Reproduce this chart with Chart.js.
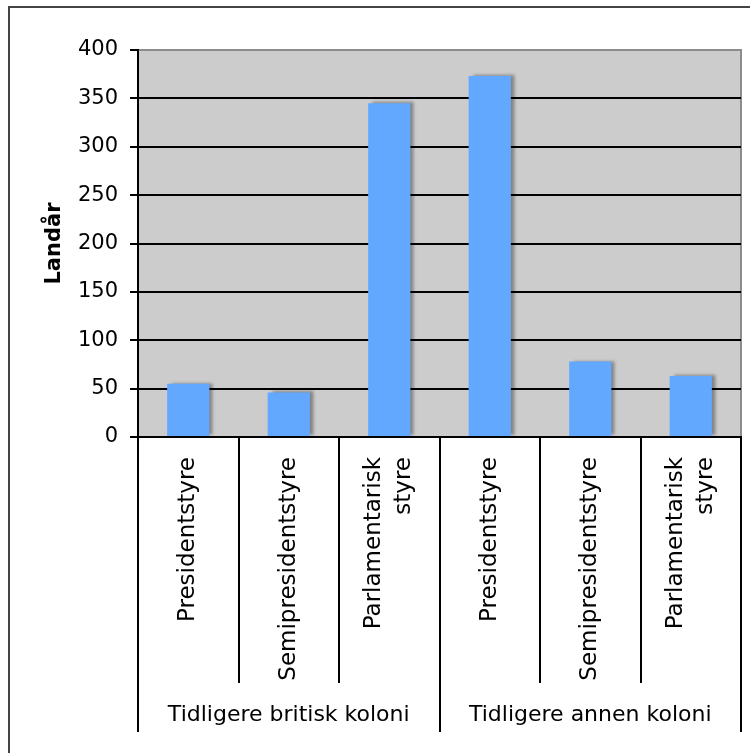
<!DOCTYPE html>
<html>
<head>
<meta charset="utf-8">
<script src="https://cdn.jsdelivr.net/npm/chart.js@4.4.1/dist/chart.umd.min.js"></script>
<style>
  body { margin: 0; background: #fff; }
</style>
</head>
<body>
<canvas id="myChart" width="750" height="753"></canvas>
<script>
const kategorier = [
    "Presidentstyre",
    "Semipresidentstyre",
    ["Parlamentarisk", "styre"],
    "Presidentstyre",
    "Semipresidentstyre",
    ["Parlamentarisk", "styre"],
];
const grupper = ["Tidligere britisk koloni", "Tidligere annen koloni"];
const gruppeStorrelse = [3, 3];
const landar = [55, 46, 345, 373, 78, 63];

const skrift = "'DejaVu Sans', Verdana, sans-serif";

// hvit ramme rundt det hele og grå plottflate
const bakgrunn = {
    id: "bakgrunn",
    beforeDraw(chart) {
        const { ctx, chartArea: a } = chart;
        ctx.save();
        ctx.fillStyle = "#fff";
        ctx.fillRect(0, 0, chart.width, chart.height);
        ctx.strokeStyle = "#444";
        ctx.lineWidth = 2;
        ctx.strokeRect(9, 7, chart.width + 20, chart.height + 20);
        ctx.fillStyle = "#cccccc";
        ctx.fillRect(a.left, a.top, a.right - a.left, a.bottom - a.top);
        ctx.strokeStyle = "#8c8c8c";
        ctx.strokeRect(a.left, a.top, a.right - a.left, a.bottom - a.top);
        ctx.restore();
    },
};

// skygge på høyre side av søylene
const skygge = {
    id: "skygge",
    beforeDatasetsDraw(chart) {
        const ctx = chart.ctx;
        ctx.save();
        ctx.shadowColor = "rgba(0,0,0,0.35)";
        ctx.shadowOffsetX = 4;
        ctx.shadowOffsetY = -1;
        ctx.shadowBlur = 3;
    },
    afterDatasetsDraw(chart) {
        chart.ctx.restore();
    },
};

// to-nivå kategoriakse: stående etiketter, skillelinjer og gruppenavn
const kategoriAkse = {
    id: "kategoriAkse",
    afterDraw(chart) {
        const { ctx } = chart;
        const x = chart.scales.x;
        const top = x.top;

        const grenser = [0];
        gruppeStorrelse.forEach((n) => grenser.push(grenser[grenser.length - 1] + n));

        ctx.save();
        ctx.strokeStyle = "#000";
        ctx.lineWidth = 2;
        for (let i = 0; i <= kategorier.length; i++) {
            const px = Math.round(x.getPixelForValue(i - 0.5));
            ctx.beginPath();
            ctx.moveTo(px, top);
            ctx.lineTo(px, top + (grenser.includes(i) ? 295 : 246));
            ctx.stroke();
        }

        ctx.fillStyle = "#000";
        ctx.font = "23px " + skrift;
        ctx.textAlign = "right";
        ctx.textBaseline = "middle";
        kategorier.forEach((lab, i) => {
            const linjer = Array.isArray(lab) ? lab : [lab];
            const px = x.getPixelForValue(i);
            linjer.forEach((tekst, j) => {
                const forskyv = (j - (linjer.length - 1) / 2) * 30;
                ctx.save();
                ctx.translate(px + forskyv, top + 20);
                ctx.rotate(-Math.PI / 2);
                ctx.fillText(tekst, 0, 0);
                ctx.restore();
            });
        });

        ctx.font = "22px " + skrift;
        ctx.textAlign = "center";
        grupper.forEach((navn, k) => {
            const fra = x.getPixelForValue(grenser[k] - 0.5);
            const til = x.getPixelForValue(grenser[k + 1] - 0.5);
            ctx.fillText(navn, (fra + til) / 2, top + 278);
        });
        ctx.restore();
    },
};

let myChart = document.getElementById("myChart").getContext("2d");

let landChart = new Chart(myChart, {
    type: "bar",
    data: {
        labels: kategorier,
        datasets: [
            {
                label: "Landår",
                data: landar,
                backgroundColor: "#62a8ff",
                borderWidth: 0,
                categoryPercentage: 1,
                barPercentage: 0.42,
            },
        ],
    },
    plugins: [bakgrunn, skygge, kategoriAkse],
    options: {
        responsive: false,
        animation: false,
        layout: {
            padding: { top: 50, right: 9, left: 0, bottom: 0 },
        },
        plugins: {
            legend: { display: false },
            tooltip: { enabled: false },
        },
        scales: {
            x: {
                ticks: { display: false },
                grid: { display: false },
                border: { display: true, color: "#000", width: 2 },
                afterFit(scale) {
                    scale.height = 316;
                    scale.paddingLeft = 0;
                    scale.paddingRight = 0;
                },
            },
            y: {
                min: 0,
                max: 400,
                ticks: {
                    stepSize: 50,
                    padding: 12,
                    color: "#000",
                    font: { size: 21, family: skrift },
                },
                grid: {
                    color: (c) => (c.tick && c.tick.value === 400 ? "#8c8c8c" : "#000"),
                    tickColor: "#000",
                    tickLength: 8,
                    lineWidth: 2,
                },
                border: { display: true, color: "#000", width: 2 },
                title: {
                    display: true,
                    text: "Landår",
                    color: "#000",
                    padding: { top: 42, bottom: 0 },
                    font: { size: 21, weight: "bold", family: skrift },
                },
                afterFit(scale) {
                    scale.width = 138;
                    scale.paddingTop = 0;
                    scale.paddingBottom = 0;
                },
            },
        },
    },
});
</script>
</body>
</html>
